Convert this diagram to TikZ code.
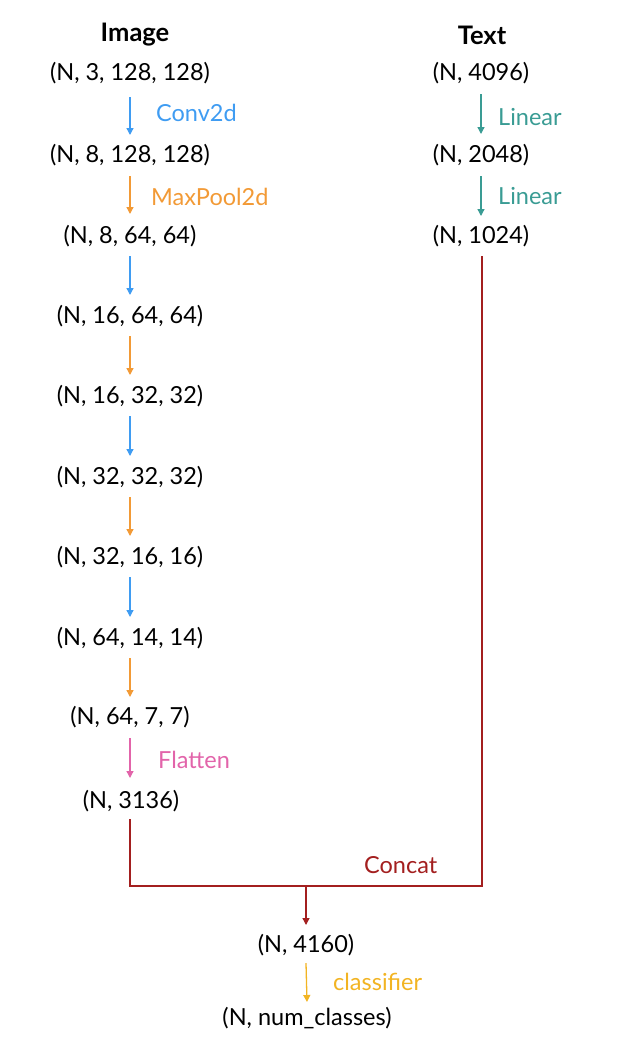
\documentclass[tikz,border=0pt]{standalone}
\usepackage{fontspec}
\setmainfont{Lato}
\usetikzlibrary{arrows.meta}
\definecolor{cblue}{HTML}{3F9CF2}
\definecolor{corange}{HTML}{F29A36}
\definecolor{cteal}{HTML}{3A9C94}
\definecolor{cpink}{HTML}{E264AA}
\definecolor{cred}{HTML}{A31F1F}
\definecolor{cyellow}{HTML}{F2B423}
\tikzset{
  dims/.style={font=\fontsize{23.5}{26}\selectfont, inner sep=0pt, anchor=center},
  head/.style={font=\fontsize{25.5}{28}\selectfont\bfseries, inner sep=0pt},
  lab/.style={font=\fontsize{23.5}{26}\selectfont, inner sep=0pt, anchor=west},
  flow/.style={line width=1.3pt, -{Triangle[length=7pt,width=7pt]}},
}
\begin{document}
\begin{tikzpicture}[x=1pt,y=-1pt]
\useasboundingbox (0,0) rectangle (619,1039);
% headers
\node[head] (himg) at (135,35) {Image};
\node[head] (htxt) at (482,35) {Text};
% image column
\node[dims] (i1) at (130,73) {(N, 3, 128, 128)};
\node[dims] (i2) at (130,155) {(N, 8, 128, 128)};
\node[dims] (i3) at (130,236) {(N, 8, 64, 64)};
\node[dims] (i4) at (130,316) {(N, 16, 64, 64)};
\node[dims] (i5) at (130,396) {(N, 16, 32, 32)};
\node[dims] (i6) at (130,477) {(N, 32, 32, 32)};
\node[dims] (i7) at (130,557) {(N, 32, 16, 16)};
\node[dims] (i8) at (130,638) {(N, 64, 14, 14)};
\node[dims] (i9) at (130,717) {(N, 64, 7, 7)};
\node[dims] (i10) at (131,801) {(N, 3136)};
% text column
\node[dims] (t1) at (481,73) {(N, 4096)};
\node[dims] (t2) at (481,155) {(N, 2048)};
\node[dims] (t3) at (481,236) {(N, 1024)};
% bottom
\node[dims] (c1) at (306,945) {(N, 4160)};
\node[dims] (c2) at (307,1018) {(N, num\_classes)};
% labels
\node[lab, text=cblue] (l1) at (156,113) {Conv2d};
\node[lab, text=corange] (l2) at (151,197) {MaxPool2d};
\node[lab, text=cpink] (l3) at (158,760) {Flatten};
\node[lab, text=cteal] (l4) at (498,117) {Linear};
\node[lab, text=cteal] (l5) at (498,196) {Linear};
\node[lab, text=cred] (l6) at (364,865) {Concat};
\node[lab, text=cyellow] (l7) at (333,982) {classifier};
% image arrows
\draw[flow, cblue]   ([yshift=-24pt]i1.center) -- ([yshift=20pt]i2.center);
\draw[flow, corange] ([yshift=-21pt]i2.center) -- ([yshift=22pt]i3.center);
\draw[flow, cblue]   ([yshift=-20pt]i3.center) -- ([yshift=21pt]i4.center);
\draw[flow, corange] ([yshift=-20pt]i4.center) -- ([yshift=21pt]i5.center);
\draw[flow, cblue]   ([yshift=-20pt]i5.center) -- ([yshift=21pt]i6.center);
\draw[flow, corange] ([yshift=-20pt]i6.center) -- ([yshift=21pt]i7.center);
\draw[flow, cblue]   ([yshift=-20pt]i7.center) -- ([yshift=21pt]i8.center);
\draw[flow, corange] ([yshift=-20pt]i8.center) -- ([yshift=20pt]i9.center);
\draw[flow, cpink]   ([yshift=-21pt]i9.center) -- ([shift={(-1pt,23pt)}]i10.center);
% text arrows
\draw[flow, cteal] ([yshift=-21pt]t1.center) -- ([yshift=21pt]t2.center);
\draw[flow, cteal] ([yshift=-21pt]t2.center) -- ([yshift=20pt]t3.center);
% concat
\coordinate (jl) at (130,886);
\coordinate (jr) at (482,886);
\coordinate (jm) at (306,886);
\draw[cred, line width=1.3pt] ([shift={(-1pt,-18pt)}]i10.center) -- (jl) -- (jr) -- ([shift={(1pt,-20pt)}]t3.center);
\draw[flow, cred] (jm) -- ([yshift=20pt]c1.center);
\draw[flow, cyellow] ([yshift=-18pt]c1.center) -- ([yshift=16pt]c2.center);
\end{tikzpicture}
\end{document}
